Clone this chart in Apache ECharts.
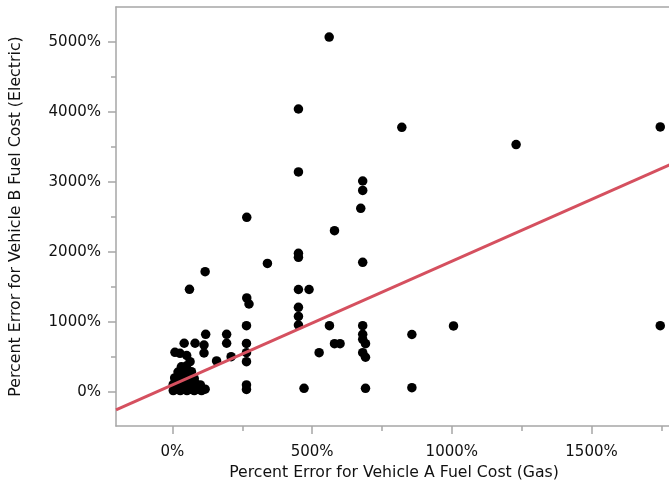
<!DOCTYPE html>
<html>
<head>
<meta charset="utf-8">
<script src="https://cdn.jsdelivr.net/npm/echarts@6/dist/echarts.min.js"></script>
<style>html,body{margin:0;padding:0;background:#fff}#c{width:669px;height:484px}</style>
</head>
<body>
<div id="c"></div>
<script>
// Percent error (%) for Vehicle A (gas) fuel cost
const gasError = [
  561, 451, 451, 821, 1230, 1746, 1746, 681, 681, 674,
  580, 266, 340, 451, 451, 681, 117, 61, 451, 489,
  266, 274, 451, 451, 451, 265, 562, 681, 1006, 857,
  681, 681, 580, 600, 691, 525, 681, 691, 265, 265,
  265, 265, 265, 471, 691, 857, 194, 194, 119, 113,
  113, 81, 42, 9, 27, 51, 63, 158, 210,
  3, 15, 28, 40, 52, 65, 78, 90, 104, 117,
  3, 16, 30, 44, 58, 72, 86, 100,
  8, 22, 36, 50, 64, 78,
  20, 36, 52, 68,
  32, 50
];
// Percent error (%) for Vehicle B (electric) fuel cost
const electricError = [
  5071, 4043, 3143, 3781, 3534, 3786, 947, 3014, 2879, 2624,
  2304, 2496, 1836, 1981, 1924, 1853, 1719, 1467, 1464, 1464,
  1343, 1257, 1210, 1079, 957, 947, 947, 947, 943, 821,
  824, 753, 690, 690, 690, 561, 561, 496, 693, 561,
  433, 100, 36, 53, 53, 61, 824, 696, 824, 671,
  557, 696, 696, 567, 553, 521, 433, 443, 504,
  20, 40, 20, 40, 20, 40, 20, 40, 20, 40,
  110, 125, 100, 115, 105, 120, 110, 100,
  200, 215, 190, 210, 200, 190,
  285, 300, 270, 290,
  360, 370
];
// Fitted line endpoints
const fitX = [-202, 1788];
const fitY = [-257, 3261];
// Tick labels
const xMajorTicks = [0, 500, 1000, 1500];
const xMinorTicks = [250, 750, 1250, 1750];
const yMajorTicks = [0, 1000, 2000, 3000, 4000, 5000];
const yMinorTicks = [500, 1500, 2500, 3500, 4500];

const points = gasError.map((x, i) => [x, electricError[i]]);
const fitLine = fitX.map((x, i) => [x, fitY[i]]);

const grey = '#a6a6a6';
const font = 'DejaVu Sans, Liberation Sans, Arial, sans-serif';
const xMin = -202, xMax = 1788, yMin = -486, yMax = 5500;
const chart = echarts.init(document.getElementById('c'));
chart.setOption({
  animation: false,
  grid: { left: 116, right: -3, top: 7, bottom: 58, show: false,
          containLabel: false, outerBoundsMode: 'none' },
  xAxis: [
    {
      type: 'value', min: xMin, max: xMax,
      name: 'Percent Error for Vehicle A Fuel Cost (Gas)', nameLocation: 'middle', nameGap: 38,
      nameTextStyle: { fontFamily: font, fontSize: 15.7, color: '#111' },
      axisLine: { show: true, onZero: false, lineStyle: { color: grey, width: 1.5 } },
      axisTick: { show: true, length: 8, customValues: xMajorTicks, lineStyle: { color: grey, width: 1.5 } },
      axisLabel: { customValues: xMajorTicks, formatter: v => v + '%', fontFamily: font, fontSize: 15, color: '#111', margin: 19 },
      splitLine: { show: false }
    },
    {
      type: 'value', min: xMin, max: xMax, position: 'bottom',
      axisLine: { show: false, onZero: false },
      axisTick: { show: true, length: 5, customValues: xMinorTicks, lineStyle: { color: grey, width: 1.5 } },
      axisLabel: { show: false },
      splitLine: { show: false }
    },
    {
      type: 'value', min: xMin, max: xMax, position: 'top',
      axisLine: { show: true, onZero: false, lineStyle: { color: grey, width: 1.5 } },
      axisTick: { show: false }, axisLabel: { show: false }, splitLine: { show: false }
    }
  ],
  yAxis: [
    {
      type: 'value', min: yMin, max: yMax,
      name: 'Percent Error for Vehicle B Fuel Cost (Electric)', nameLocation: 'middle', nameGap: 92,
      nameTextStyle: { fontFamily: font, fontSize: 15.8, color: '#111' },
      axisLine: { show: true, onZero: false, lineStyle: { color: grey, width: 1.5 } },
      axisTick: { show: true, length: 8, customValues: yMajorTicks, lineStyle: { color: grey, width: 1.5 } },
      axisLabel: { customValues: yMajorTicks, formatter: v => v + '%', fontFamily: font, fontSize: 15, color: '#111', margin: 15 },
      splitLine: { show: false }
    },
    {
      type: 'value', min: yMin, max: yMax, position: 'left',
      axisLine: { show: false, onZero: false },
      axisTick: { show: true, length: 5, customValues: yMinorTicks, lineStyle: { color: grey, width: 1.5 } },
      axisLabel: { show: false },
      splitLine: { show: false }
    }
  ],
  series: [
    {
      type: 'scatter', xAxisIndex: 0, yAxisIndex: 0, data: points,
      symbol: 'circle', symbolSize: 9.5, itemStyle: { color: '#000', opacity: 1 }, z: 2
    },
    {
      type: 'line', xAxisIndex: 0, yAxisIndex: 0, data: fitLine, symbol: 'none',
      lineStyle: { color: '#d5505f', width: 3 }, z: 3, silent: true
    }
  ]
});
</script>
</body>
</html>
